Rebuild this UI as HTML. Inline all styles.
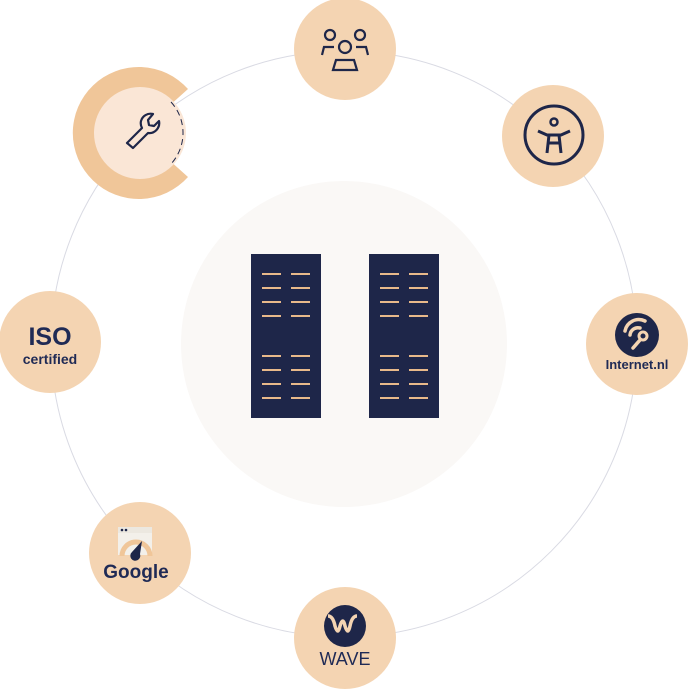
<!DOCTYPE html>
<html><head><meta charset="utf-8"><style>
html,body{margin:0;padding:0;background:#fff;}
svg{display:block;}
text{font-family:"Liberation Sans",sans-serif;fill:#1f2a55;}
</style></head><body>
<svg width="689" height="689" viewBox="0 0 689 689" xmlns="http://www.w3.org/2000/svg">
<circle cx="344" cy="344" r="293" fill="none" stroke="#d9dae3" stroke-width="1"/>
<circle cx="344" cy="344" r="163" fill="#faf8f6"/>
<rect x="251" y="254" width="70" height="164" fill="#1e2649"/>
<rect x="369" y="254" width="70" height="164" fill="#1e2649"/>
<g stroke="#e8b98a" stroke-width="2">
<path d="M262 274h19M291 274h19M262 288h19M291 288h19M262 302h19M291 302h19M262 316h19M291 316h19M262 356h19M291 356h19M262 370h19M291 370h19M262 384h19M291 384h19M262 398h19M291 398h19"/>
<path d="M380 274h19M409 274h19M380 288h19M409 288h19M380 302h19M409 302h19M380 316h19M409 316h19M380 356h19M409 356h19M380 370h19M409 370h19M380 384h19M409 384h19M380 398h19M409 398h19"/>
</g>
<g fill="#f4d4b2">
<circle cx="345" cy="49" r="51"/>
<circle cx="553" cy="136" r="51"/>
<circle cx="637" cy="344" r="51"/>
<circle cx="345" cy="638" r="51"/>
<circle cx="140" cy="553" r="51"/>
<circle cx="50" cy="342" r="51"/>
</g>
<path d="M139 133 L188 89 A66 66 0 1 0 188 177 Z" fill="#f0c699"/>
<circle cx="140" cy="133" r="46" fill="#fae6d6"/>
<path d="M171 102 A46 46 0 0 1 171 164" fill="none" stroke="#1e2649" stroke-width="1" stroke-dasharray="6 4"/>
<g fill="none" stroke="#1e2649" stroke-width="2.2" stroke-linejoin="round">
<path d="M141 121 a10 10 0 0 1 12 -7 l-5 6 l1 5 l5 1 l5 -5 a10 10 0 0 1 -11 12 l-15 15 l-6 -5 l15 -15 a10 10 0 0 1 -1 -7 z"/>
</g>
<g fill="none" stroke="#1e2649" stroke-width="2.2">
<circle cx="330" cy="35" r="5"/><circle cx="360" cy="35" r="5"/><circle cx="345" cy="47" r="6"/>
<path d="M322 55 l2-8 h10 M368 55 l-2-8 h-10 M333 70 l3-10 h18 l3 10 z"/>
</g>
<g fill="none" stroke="#1e2649" stroke-width="3">
<circle cx="554" cy="135" r="29"/>
<circle cx="554" cy="122" r="3.5" stroke-width="2.5"/>
<path d="M538 131 l9 4 h14 l9 -4 M549 135 l-2 18 M559 135 l2 18 M549 143 h10"/>
</g>
<circle cx="637" cy="335" r="22" fill="#1e2649"/>
<g fill="none" stroke="#f4d4b2" stroke-width="3.5" stroke-linecap="round">
<path d="M625 331 a14 14 0 0 1 20 -10"/>
<path d="M630 335 a8 8 0 0 1 10 -7"/>
<circle cx="643" cy="336" r="4" stroke-width="3"/>
<path d="M640 340 l-7 8"/>
</g>
<text x="637" y="369" font-size="13" text-anchor="middle" font-weight="bold">Internet.nl</text>
<text x="50" y="345" font-size="25" text-anchor="middle" font-weight="bold">ISO</text>
<text x="50" y="364" font-size="14" text-anchor="middle" font-weight="bold">certified</text>
<rect x="118" y="527" width="34" height="28" fill="#f3f0ea"/>
<rect x="118" y="527" width="34" height="6" fill="#ece8e0"/>
<circle cx="122" cy="530" r="1.3" fill="#1e2649"/><circle cx="126" cy="530" r="1.3" fill="#1e2649"/>
<path d="M122 556 a14 14 0 0 1 28 0" fill="none" stroke="#f0c699" stroke-width="5"/>
<path d="M132 552 l10 -11 l-2 13 a5 5 0 1 1 -8 -2z" fill="#1e2649"/>
<text x="136" y="578" font-size="19" text-anchor="middle" font-weight="bold">Google</text>
<circle cx="345" cy="626" r="21" fill="#1e2649"/>
<path d="M328 616 q5 0 7 10 q3 10 5 0 q3 -10 5 0 q3 10 5 0 q2 -10 7 -10" fill="none" stroke="#f4d4b2" stroke-width="3.5"/>
<text x="345" y="665" font-size="18" text-anchor="middle">WAVE</text>
</svg>
</body></html>
